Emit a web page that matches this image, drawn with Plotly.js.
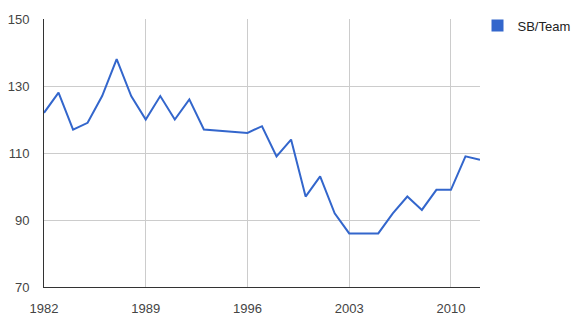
<!DOCTYPE html>
<html>
<head>
<meta charset="utf-8">
<script src="https://cdn.plot.ly/plotly-3.0.1.min.js"></script>
<style>html,body{margin:0;padding:0;background:#fff;}#chart{width:576px;height:324px;}</style>
</head>
<body>
<div id="chart"></div>
<script>
var years = [1982,1983,1984,1985,1986,1987,1988,1989,1990,1991,1992,1993,1996,1997,1998,1999,2000,2001,2002,2003,2004,2005,2006,2007,2008,2009,2010,2011,2012];
var sbPerTeam = [122,128,117,119,127,138,127,120,127,120,126,117,116,118,109,114,97,103,92,86,86,86,92,97,93,99,99,109,108];
var seriesName = 'SB/Team';
var xTicks = [1982,1989,1996,2003,2010];
var yTicks = [70,90,110,130,150];

var font = 'Arial, "Liberation Sans", sans-serif';
var traces = [
  {x: years, y: sbPerTeam, type: 'scatter', mode: 'lines', name: seriesName, showlegend: false,
   line: {color: '#3366cc', width: 2}, hoverinfo: 'x+y'},
  {x: [null], y: [null], type: 'bar', name: seriesName, marker: {color: '#3366cc'}, showlegend: true}
];
var layout = {
  width: 576, height: 324,
  margin: {l: 44, r: 96, t: 19, b: 37, pad: 0, autoexpand: false},
  paper_bgcolor: '#fff', plot_bgcolor: '#fff',
  font: {family: font, size: 13, color: '#444'},
  xaxis: {range: [1982, 2012], tickvals: xTicks, ticktext: xTicks.map(String),
          showgrid: true, gridcolor: '#cccccc', gridwidth: 1, zeroline: false,
          showline: true, linecolor: '#333333', linewidth: 1,
          ticks: 'outside', ticklen: 9, tickcolor: 'rgba(0,0,0,0)',
          tickfont: {family: font, size: 13, color: '#444'}, fixedrange: true},
  yaxis: {range: [70, 150], tickvals: yTicks, ticktext: yTicks.map(String),
          showgrid: true, gridcolor: '#cccccc', gridwidth: 1, zeroline: false,
          showline: true, linecolor: '#333333', linewidth: 1,
          ticks: 'outside', ticklen: 11, tickcolor: 'rgba(0,0,0,0)',
          tickfont: {family: font, size: 13, color: '#444'}, fixedrange: true},
  showlegend: true,
  legend: {xref: 'container', yref: 'container', x: 0.829, xanchor: 'left', y: 0.921, yanchor: 'middle',
           font: {family: font, size: 13, color: '#222'}, bgcolor: 'rgba(0,0,0,0)',
           borderwidth: 0, itemwidth: 30}
};
Plotly.newPlot('chart', traces, layout, {displayModeBar: false, staticPlot: true});
</script>
</body>
</html>
